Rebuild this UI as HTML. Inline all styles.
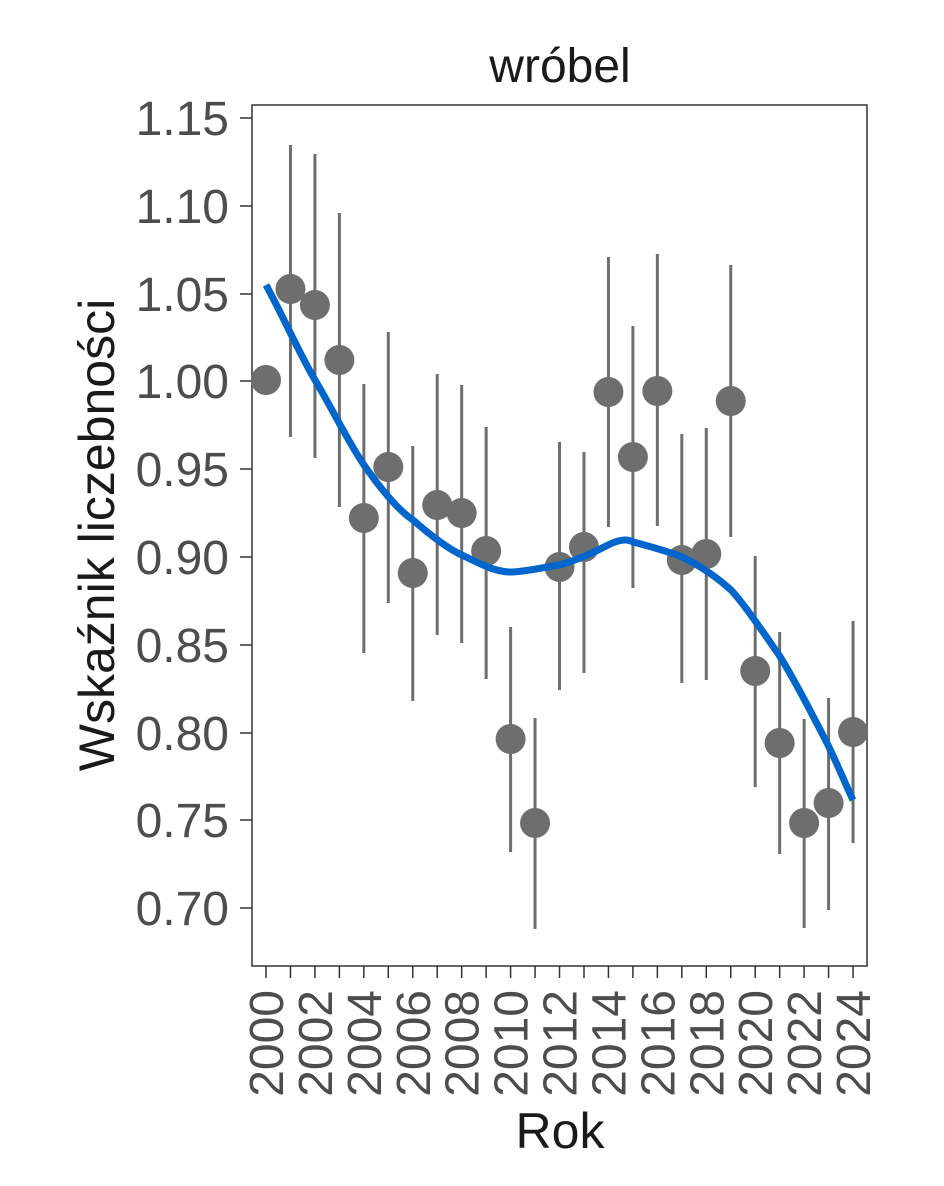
<!DOCTYPE html>
<html><head><meta charset="utf-8"><style>body{margin:0;background:#fff}</style></head><body>
<svg width="944" height="1181" xmlns="http://www.w3.org/2000/svg" font-family="Liberation Sans, Arial, sans-serif">
<rect width="944" height="1181" fill="#fff"/>
<text x="560" y="82" font-size="48" text-anchor="middle" fill="#1a1a1a">wróbel</text>
<rect x="252" y="105" width="615" height="861" fill="none" stroke="#333" stroke-width="1.5"/>
<g fill="#4d4d4d" font-size="48" text-anchor="end">
<text x="229" y="135">1.15</text><text x="229" y="223">1.10</text><text x="229" y="311">1.05</text>
<text x="229" y="398">1.00</text><text x="229" y="486">0.95</text><text x="229" y="574">0.90</text>
<text x="229" y="662">0.85</text><text x="229" y="750">0.80</text><text x="229" y="837">0.75</text>
<text x="229" y="925">0.70</text>
</g>
<g stroke="#333" stroke-width="1.5">
<line x1="240" x2="252" y1="118" y2="118"/><line x1="240" x2="252" y1="206" y2="206"/><line x1="240" x2="252" y1="294" y2="294"/>
<line x1="240" x2="252" y1="381" y2="381"/><line x1="240" x2="252" y1="469" y2="469"/><line x1="240" x2="252" y1="557" y2="557"/>
<line x1="240" x2="252" y1="645" y2="645"/><line x1="240" x2="252" y1="733" y2="733"/><line x1="240" x2="252" y1="820" y2="820"/>
<line x1="240" x2="252" y1="908" y2="908"/>
</g>
<g stroke="#333" stroke-width="1.5" id="xt"></g>
<g fill="#4d4d4d" font-size="48" id="xl"></g>
<text transform="translate(114,535) rotate(-90)" font-size="50" text-anchor="middle" fill="#1a1a1a">Wskaźnik liczebności</text>
<text x="560" y="1148" font-size="50" text-anchor="middle" fill="#1a1a1a">Rok</text>
<g id="pts"></g>
<path d="M266,285 C280,310 300,355 315,380 C330,405 350,445 364,465 C380,488 398,510 413,520 C430,535 450,550 462,555 C478,563 495,572 510,572 C525,572 545,567 559,565 C575,561 595,552 608,545 C620,539 628,539 633,542 C645,545 670,552 682,557 C700,565 720,580 731,590 C745,605 765,635 779,655 C795,680 815,720 828,745 C840,770 848,790 853,800" fill="none" stroke="#0066cc" stroke-width="7"/>
<script>
var d=[[380,0,0],[289,145,437],[305,154,458],[360,213,507],[518,384,653],[467,332,603],[573,446,701],[505,374,635],[513,385,643],[551,427,679],[739,627,852],[823,718,929],[567,442,690],[547,452,673],[392,257,527],[457,326,588],[391,254,526],[560,434,683],[554,428,680],[401,265,537],[671,556,787],[743,632,854],[823,719,928],[803,698,910],[732,621,843]];
var ns="http://www.w3.org/2000/svg",p=document.getElementById('pts'),xt=document.getElementById('xt'),xl=document.getElementById('xl');
function el(t,a,par){var e=document.createElementNS(ns,t);for(var k in a)e.setAttribute(k,a[k]);par.appendChild(e);return e;}
d.forEach(function(v,i){var x=266+i*24.46;
if(v[1])el('line',{x1:x,x2:x,y1:v[1],y2:v[2],stroke:'#6e6e6e','stroke-width':3},p);
el('circle',{cx:x,cy:v[0],r:15,fill:'#6e6e6e'},p);
el('line',{x1:x,x2:x,y1:966,y2:978},xt);
if(i%2==0){var t=el('text',{transform:'translate('+(x+17)+',990) rotate(-90)','text-anchor':'end'},xl);t.textContent=2000+i;}
});
</script>
</svg>
</body></html>
